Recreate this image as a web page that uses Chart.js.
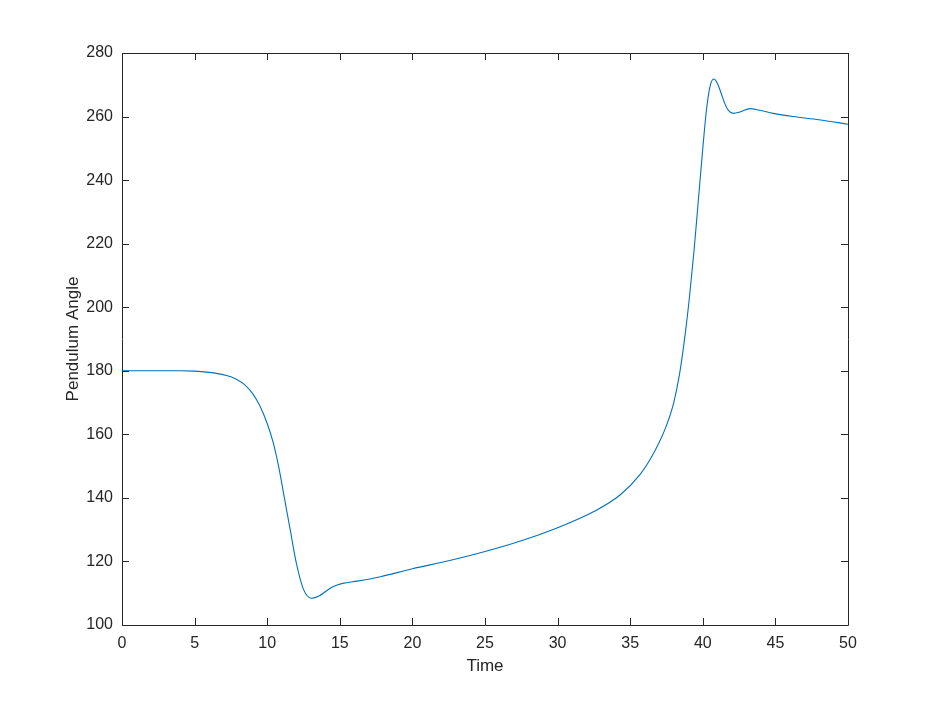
<!DOCTYPE html>
<html lang="en">
<head>
  <meta charset="UTF-8">
  <title>Pendulum Angle</title>
  <script src="https://cdn.jsdelivr.net/npm/chart.js"></script>
  <style>
    body {
      margin: 0;
      background: #fff;
    }
    .wrap {
      width: 936px;
      height: 702px;
    }
  </style>
</head>
<body>

<div class="wrap">
  <canvas id="chartPendule" width="936" height="702"></canvas>
</div>

<script>
  // values
  const timeVals = [0, 2, 4, 5, 6, 6.6, 7.2, 7.8, 8.4, 9, 9.5, 10, 10.4, 10.8, 11.2, 11.6, 12, 12.5,
    13.06, 13.6, 14.1, 14.6, 15.2, 16.2, 17.8, 20, 22.5, 25, 27.5, 30, 32.5, 34.3, 35.7, 36.4, 37, 37.5, 38,
    38.4, 38.8, 39.1, 39.4, 39.7, 40.0, 40.25, 40.5, 40.75, 41.0, 41.25, 41.5, 41.75, 42.1, 42.6,
    43.25, 43.9, 44.85, 46.2, 48, 50];
  const angleVals = [180, 180, 180, 179.9, 179.5, 179.1, 178.5, 177.5, 175.8, 172.8, 168.9, 163.4, 157.6,
    149.6, 139.6, 129.6, 119.6, 111.2, 108.4, 109.2, 110.8, 112.2, 113.1, 113.8, 115.2, 117.7, 120.2, 123.1,
    126.5, 130.6, 135.7, 140.9, 147.5, 152.3, 157.5, 162.8, 170, 179, 192, 204, 218, 234, 250, 262,
    269.5, 271.8, 270.5, 267.5, 264.3, 262, 261, 261.5, 262.5, 262, 261, 260, 259, 257.6];
  const xTicks = [0, 5, 10, 15, 20, 25, 30, 35, 40, 45, 50];
  const yTicks = [100, 120, 140, 160, 180, 200, 220, 240, 260, 280];

  const axisColor = '#262626';
  const fontFam = '"Liberation Sans", Arial, sans-serif';

  // MATLAB-style box with inward ticks
  const boxTicks = {
    id: 'boxTicks',
    afterDraw(chart) {
      const { ctx, chartArea: a, scales } = chart;
      const len = 7;
      ctx.save();
      ctx.strokeStyle = axisColor;
      ctx.lineWidth = 1;
      ctx.beginPath();
      ctx.rect(a.left + 0.5, a.top + 0.5, a.right - a.left, a.bottom - a.top);
      xTicks.forEach(v => {
        const px = Math.round(scales.x.getPixelForValue(v)) + 0.5;
        ctx.moveTo(px, a.bottom); ctx.lineTo(px, a.bottom - len);
        ctx.moveTo(px, a.top); ctx.lineTo(px, a.top + len);
      });
      yTicks.forEach(v => {
        const py = Math.round(scales.y.getPixelForValue(v)) + 0.5;
        ctx.moveTo(a.left, py); ctx.lineTo(a.left + len, py);
        ctx.moveTo(a.right, py); ctx.lineTo(a.right - len, py);
      });
      ctx.stroke();
      ctx.restore();
    }
  };

  new Chart(document.getElementById('chartPendule'), {
    type: 'line',
    data: {
      datasets: [{
        data: timeVals.map((t, i) => ({ x: t, y: angleVals[i] })),
        borderColor: '#0072BD',
        borderWidth: 1.1,
        pointRadius: 0,
        cubicInterpolationMode: 'monotone',
        fill: false
      }]
    },
    options: {
      responsive: false,
      animation: false,
      layout: { padding: { left: 0, top: 53, right: 88, bottom: 0 } },
      plugins: {
        legend: { display: false },
        tooltip: { enabled: false }
      },
      scales: {
        x: {
          type: 'linear',
          min: 0,
          max: 50,
          afterBuildTicks: s => { s.ticks = xTicks.map(v => ({ value: v })); },
          afterFit: s => { s.height = 77; },
          grid: { display: false, drawTicks: false },
          border: { display: false },
          ticks: { color: axisColor, padding: 9, font: { family: fontFam, size: 16 } },
          title: {
            display: true,
            text: 'Time',
            color: axisColor,
            font: { family: fontFam, size: 17 },
            padding: { top: 0, bottom: 25 }
          }
        },
        y: {
          type: 'linear',
          min: 100,
          max: 280,
          afterBuildTicks: s => { s.ticks = yTicks.map(v => ({ value: v })); },
          afterFit: s => { s.width = 122; },
          grid: { display: false, drawTicks: false },
          border: { display: false },
          ticks: { color: axisColor, padding: 9, font: { family: fontFam, size: 16 } },
          title: {
            display: true,
            text: 'Pendulum Angle',
            color: axisColor,
            font: { family: fontFam, size: 17 },
            padding: { top: 63, bottom: 0 }
          }
        }
      }
    },
    plugins: [boxTicks]
  });
</script>

</body>
</html>
